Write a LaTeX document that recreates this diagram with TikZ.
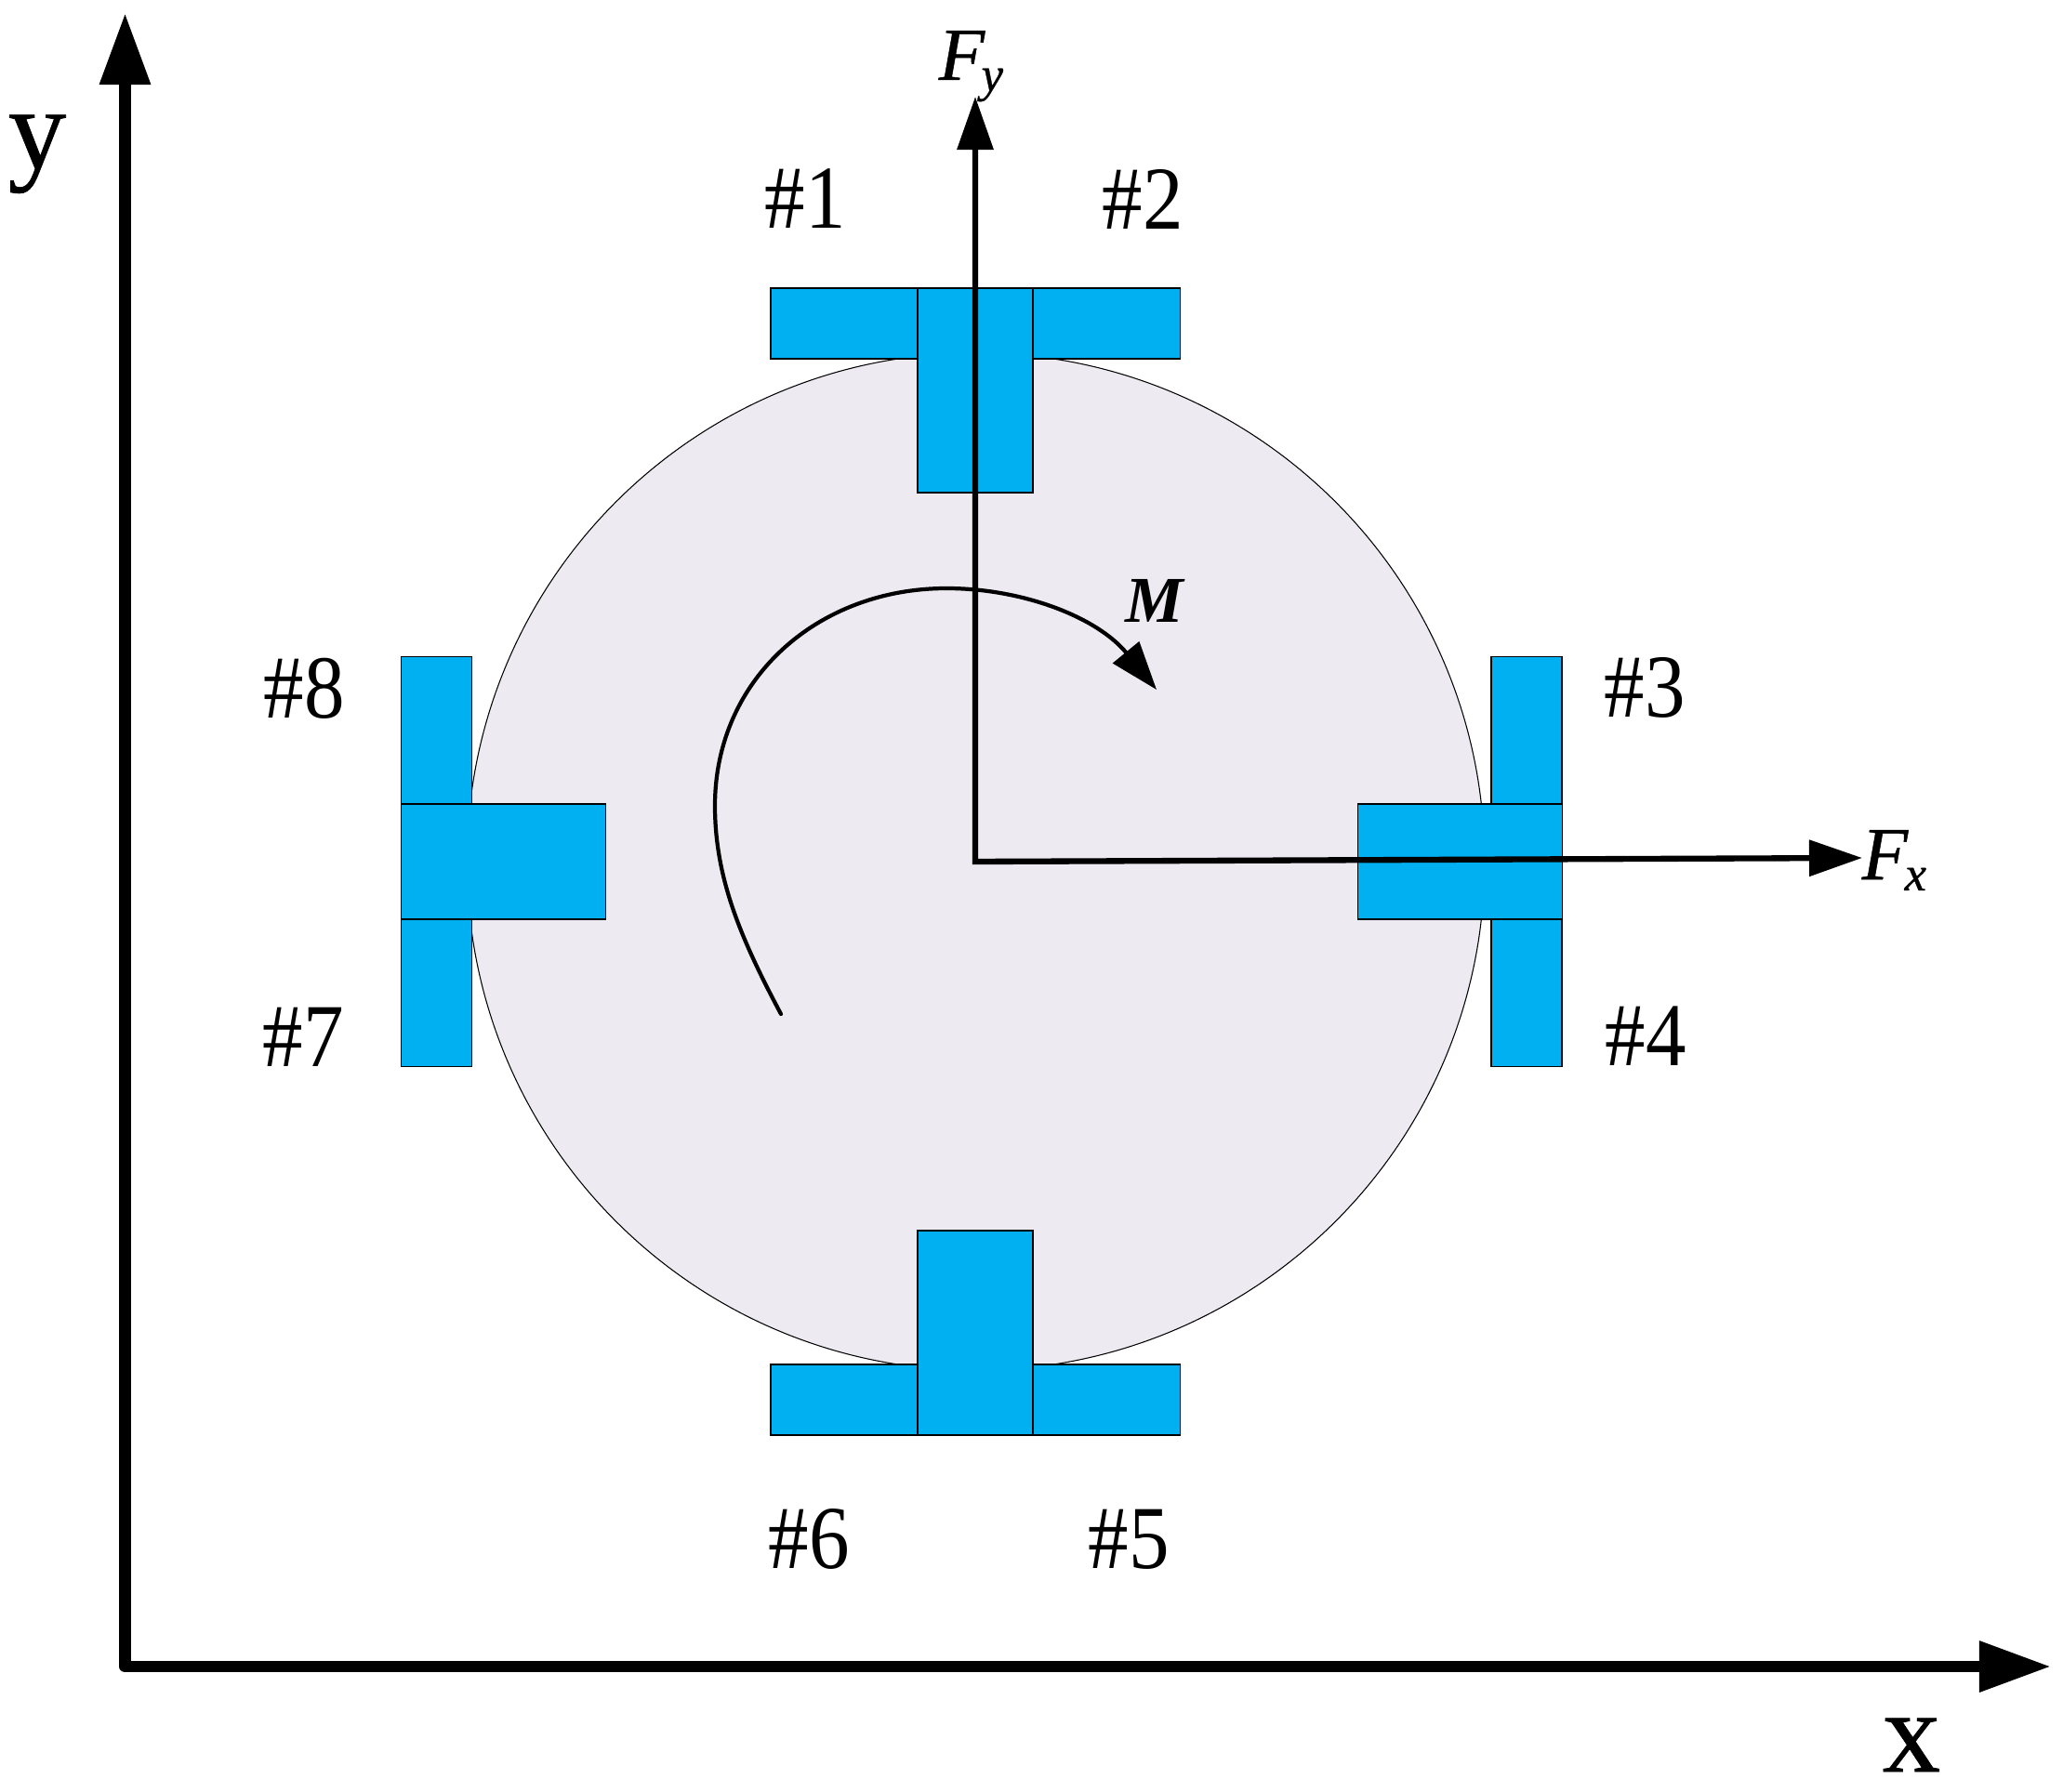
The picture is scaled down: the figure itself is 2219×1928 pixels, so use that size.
\documentclass[tikz,border=0pt]{standalone}
\usepackage{xcolor}
\usepackage{fontspec}
\setmainfont{Liberation Serif}
\newfontfamily\tagfont[FakeStretch=0.9]{Liberation Serif}
\newfontfamily\forcefont[FakeBold=0.6]{Liberation Serif}
\usetikzlibrary{arrows.meta}
\definecolor{padblue}{HTML}{00B0F0}
\definecolor{discgrey}{HTML}{EDEAF2}
\newcommand{\forcelabel}[2]{{\forcefont\itshape #1\kern-1pt\raisebox{-3.4pt}{\fontsize{15}{15}\selectfont #2}}}
\tikzset{
	pad/.style={rectangle,draw=black,fill=padblue,line width=0.35pt,inner sep=0pt,outer sep=0pt},
	hbar/.style={pad,minimum width=4.4cm,minimum height=0.76cm},
	vbar/.style={pad,minimum width=0.76cm,minimum height=4.4cm},
	hstem/.style={pad,minimum width=2.2cm,minimum height=1.24cm},
	vstem/.style={pad,minimum width=1.24cm,minimum height=2.2cm},
	tag/.style={font=\tagfont\fontsize{27.5}{27.5}\selectfont,inner sep=0pt},
	axislabel/.style={font=\forcefont\fontsize{35.5}{35.5}\selectfont,inner sep=0pt,anchor=base},
	forcelabel/.style={font=\fontsize{23}{23}\selectfont,inner sep=0pt,anchor=base west},
	axis/.style={line width=3.6pt,line join=round,{Triangle[length=0.77cm,width=0.52cm]}-{Triangle[length=0.77cm,width=0.52cm]}},
	force/.style={line width=1.8pt,{Triangle[length=0.57cm,width=0.38cm]}-{Triangle[length=0.57cm,width=0.38cm]}},
	moment/.style={line width=1.2pt,line cap=round,-{Triangle[length=0.52cm,width=0.36cm]}}
}
\begin{document}
\begin{tikzpicture}[x=0.01cm,y=-0.01cm]
	\useasboundingbox (0,0) rectangle (2219,1928);
	\node [circle,draw=black,fill=discgrey,line width=0.3pt,minimum size=10.94cm,inner sep=0pt] (disc) at (1049.5,927) {};
	\node [hbar] (top) at (1049,348) {};
	\node [vstem] (topstem) at (1049,420) {};
	\node [hbar] (bottom) at (1049,1506) {};
	\node [vstem] (bottomstem) at (1049,1434) {};
	\node [vbar] (left) at (469.5,927) {};
	\node [hstem] (leftstem) at (541.5,927) {};
	\node [vbar] (right) at (1642,927) {};
	\node [hstem] (rightstem) at (1570.5,927) {};
	\node [tag] (n1) at (866,214) {\#1};
	\node [tag] (n2) at (1229,214) {\#2};
	\node [tag] (n3) at (1769,740) {\#3};
	\node [tag] (n4) at (1770,1115) {\#4};
	\node [tag] (n5) at (1214,1656) {\#5};
	\node [tag] (n6) at (870,1656) {\#6};
	\node [tag] (n7) at (326,1116) {\#7};
	\node [tag] (n8) at (327,741) {\#8};
	\node [axislabel] (ylabel) at (40,181) {y};
	\node [axislabel] (xlabel) at (2056,1906) {x};
	\node [forcelabel] (fy) at (1009,86) {\forcelabel{F}{y}};
	\node [forcelabel] (fx) at (2002,946) {\forcelabel{F}{x}};
	\node [forcelabel,font=\fontsize{20}{20}\selectfont] (mlabel) at (1210,669) {\textbf{\itshape M}};
	\coordinate (origin) at (134.5,1793);
	\coordinate (ytip) at (134.5,14);
	\coordinate (xtip) at (2206,1793);
	\coordinate (centre) at (1049,927);
	\coordinate (fytip) at (1049,104);
	\coordinate (fxtip) at (2003,923);
	\draw [axis] (ytip) -- (origin) -- (xtip);
	\draw [force] (fytip) -- (centre) -- (fxtip);
	\coordinate (mstart) at (840,1091);
	\coordinate (mleft) at (769,867);
	\coordinate (mtop) at (1018,633);
	\coordinate (mtip) at (1244,742);
	\draw [moment] (mstart) .. controls (797,1010) and (769,945) .. (mleft)
		.. controls (769,730) and (880,633) .. (mtop)
		.. controls (1100,633) and (1180,664) .. (mtip);
\end{tikzpicture}
\end{document}
